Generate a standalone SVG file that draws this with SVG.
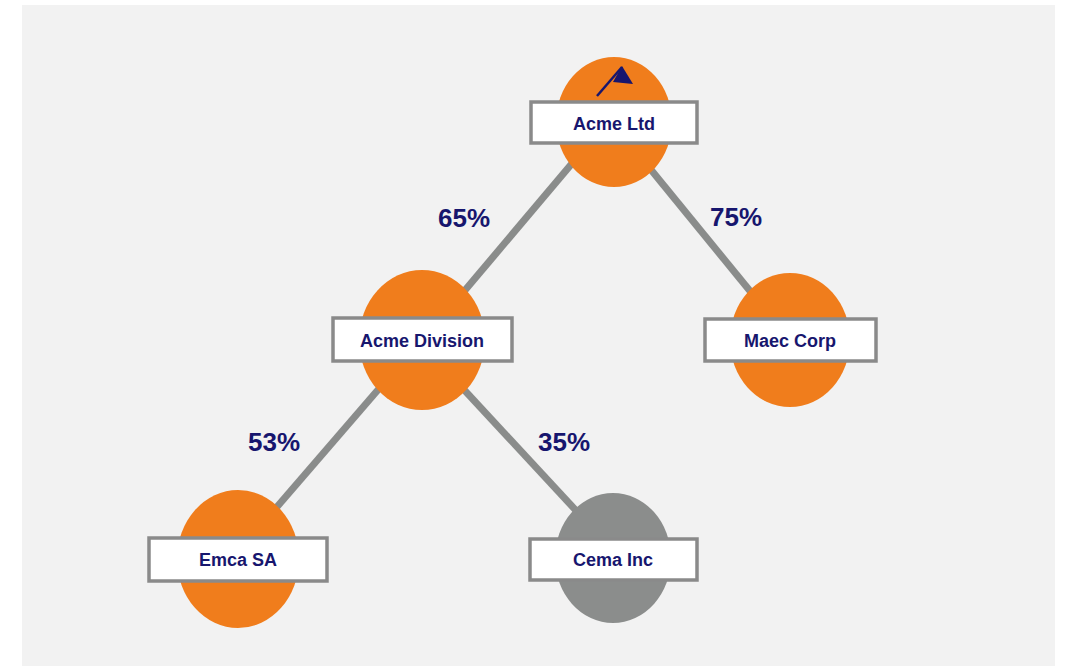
<svg xmlns="http://www.w3.org/2000/svg" width="1066" height="667" viewBox="0 0 1066 667">
<style>
.orange{fill:#f07d1c}
.grey{fill:#8b8d8c}
.box{fill:#ffffff;stroke:#8a8a8a;stroke-width:3.5}
.lbl{font-family:"Liberation Sans",Arial,sans-serif;font-weight:bold;font-size:18px;fill:#17166e;text-anchor:middle}
.pct{font-family:"Liberation Sans",Arial,sans-serif;font-weight:bold;font-size:26px;fill:#17166e}
.edge{stroke:#8a8c8b;stroke-width:7;fill:none}
</style>
<rect x="0" y="0" width="1066" height="667" fill="#ffffff"/>
<rect x="22" y="5" width="1033" height="661" fill="#f2f2f2"/>
<g id="connectors">
<line class="edge" x1="607" y1="122" x2="423" y2="340"/>
<line class="edge" x1="612" y1="122" x2="790" y2="340"/>
<line class="edge" x1="421" y1="340" x2="232" y2="559"/>
<line class="edge" x1="418" y1="340" x2="620" y2="558"/>
</g>
<g id="labels">
<text class="pct" x="438" y="227">65%</text>
<text class="pct" x="710" y="226">75%</text>
<text class="pct" x="248" y="451">53%</text>
<text class="pct" x="538" y="451">35%</text>
</g>
<g id="acme-ltd">
<ellipse class="orange" cx="614" cy="122" rx="58" ry="65"/>
<line x1="597" y1="96" x2="622" y2="67" stroke="#17166e" stroke-width="2.5"/>
<polygon points="622,66 633,84 613,82" fill="#17166e"/>
<rect class="box" x="531" y="102" width="166" height="41"/>
<text class="lbl" x="614" y="130">Acme Ltd</text>
</g>
<g id="acme-division">
<ellipse class="orange" cx="422" cy="340" rx="63" ry="70"/>
<rect class="box" x="333" y="318" width="179" height="43"/>
<text class="lbl" x="422" y="347">Acme Division</text>
</g>
<g id="maec-corp">
<ellipse class="orange" cx="790" cy="340" rx="60" ry="67"/>
<rect class="box" x="705" y="319" width="171" height="42"/>
<text class="lbl" x="790" y="347">Maec Corp</text>
</g>
<g id="emca-sa">
<ellipse class="orange" cx="238" cy="559" rx="61" ry="69"/>
<rect class="box" x="149" y="538" width="178" height="43"/>
<text class="lbl" x="238" y="566">Emca SA</text>
</g>
<g id="cema-inc">
<ellipse class="grey" cx="613" cy="558" rx="58" ry="65"/>
<rect class="box" x="530" y="539" width="167" height="41"/>
<text class="lbl" x="613" y="566">Cema Inc</text>
</g>
</svg>
